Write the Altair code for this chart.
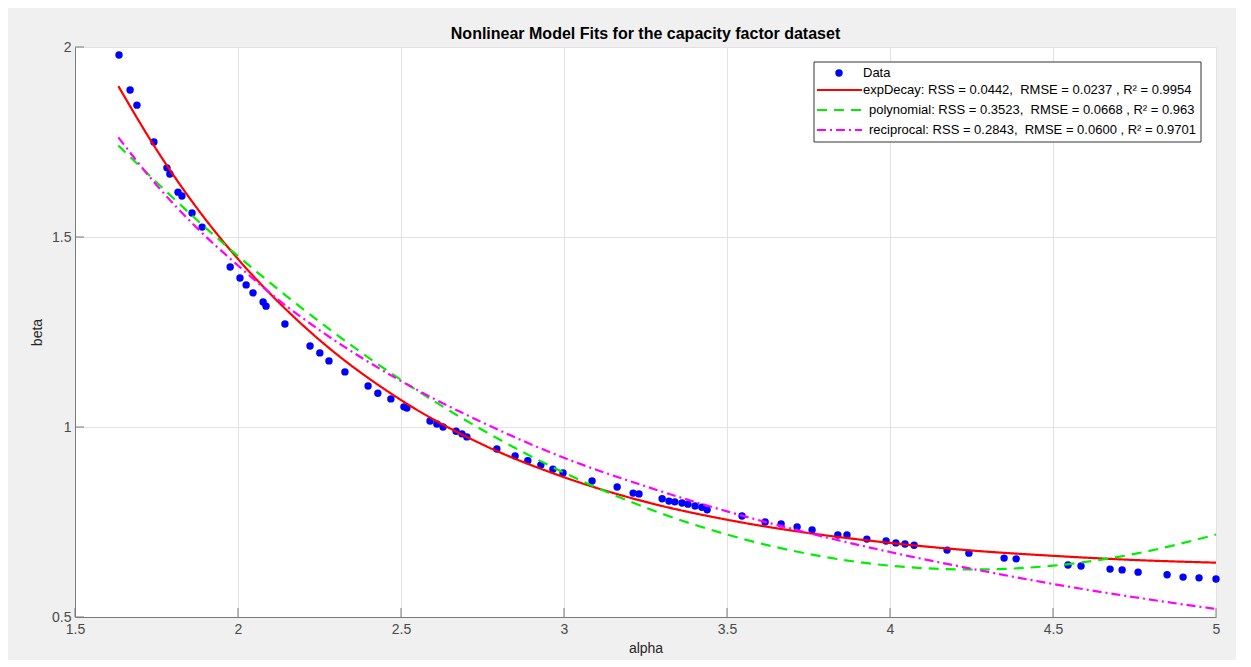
import altair as alt
import pandas as pd

# ---- data ----
alpha_data = [1.635, 1.669, 1.690, 1.742, 1.782, 1.791, 1.816, 1.828, 1.859, 1.890,
              1.976, 2.006, 2.025, 2.046, 2.077, 2.086, 2.144, 2.221, 2.251, 2.279,
              2.328, 2.399, 2.429, 2.469, 2.509, 2.518, 2.589, 2.610, 2.629, 2.669,
              2.687, 2.702, 2.794, 2.850, 2.889, 2.929, 2.966, 2.997, 3.086, 3.163,
              3.212, 3.230, 3.301, 3.322, 3.340, 3.362, 3.380, 3.402, 3.423, 3.439,
              3.546, 3.617, 3.666, 3.715, 3.761, 3.840, 3.868, 3.929, 3.988, 4.018,
              4.046, 4.074, 4.175, 4.242, 4.350, 4.387, 4.546, 4.586, 4.675, 4.712,
              4.761, 4.850, 4.899, 4.948, 5.000]
beta_data = [1.979, 1.887, 1.847, 1.750, 1.682, 1.666, 1.618, 1.608, 1.563, 1.526,
             1.421, 1.392, 1.374, 1.353, 1.329, 1.318, 1.271, 1.213, 1.195, 1.174,
             1.145, 1.108, 1.089, 1.074, 1.053, 1.050, 1.016, 1.008, 1.000, 0.989,
             0.982, 0.974, 0.942, 0.924, 0.911, 0.900, 0.889, 0.879, 0.858, 0.842,
             0.826, 0.824, 0.811, 0.805, 0.803, 0.800, 0.797, 0.792, 0.789, 0.782,
             0.766, 0.750, 0.745, 0.737, 0.729, 0.716, 0.716, 0.705, 0.700, 0.695,
             0.692, 0.689, 0.676, 0.668, 0.655, 0.653, 0.637, 0.634, 0.626, 0.624,
             0.618, 0.611, 0.605, 0.603, 0.600]

fit_alpha = [1.633, 1.75, 1.875, 2.0, 2.125, 2.25, 2.5, 2.75, 3.0, 3.25,
             3.5, 3.75, 4.0, 4.25, 4.5, 4.75, 5.0]
exp_decay = [1.897, 1.730, 1.575, 1.442, 1.328, 1.229, 1.071, 0.954, 0.868, 0.803,
             0.756, 0.721, 0.695, 0.675, 0.661, 0.650, 0.643]
polynomial = [1.741, 1.644, 1.544, 1.450, 1.361, 1.277, 1.124, 0.992, 0.880, 0.788,
              0.717, 0.666, 0.635, 0.625, 0.635, 0.666, 0.717]
reciprocal = [1.762, 1.637, 1.523, 1.425, 1.334, 1.255, 1.121, 1.012, 0.919, 0.844,
              0.778, 0.721, 0.671, 0.627, 0.587, 0.552, 0.521]

series_names = ["expDecay", "polynomial", "reciprocal"]
series_colors = ["#ff0000", "#00ee00", "#ff00ff"]
series_dashes = [[1, 0], [10, 7], [9, 4, 2, 4]]
legend_labels = ["Data",
                 "expDecay: RSS = 0.0442,\u00a0 RMSE = 0.0237 , R\u00b2 = 0.9954",
                 "polynomial: RSS = 0.3523,\u00a0 RMSE = 0.0668 , R\u00b2 = 0.963",
                 "reciprocal: RSS = 0.2843,\u00a0 RMSE = 0.0600 , R\u00b2 = 0.9701"]
x_ticks = [1.5, 2, 2.5, 3, 3.5, 4, 4.5, 5]
y_ticks = [0.5, 1, 1.5, 2]

W, H = 1141, 570
FONT = "Liberation Sans"
AXIS_GRAY = "#7a7a7a"

xs = alt.Scale(domain=[1.5, 5], nice=False, zero=False)
ys = alt.Scale(domain=[0.5, 2], nice=False, zero=False)

pts_df = pd.DataFrame({"alpha": alpha_data, "beta": beta_data})
fit_rows = []
for name, vals in zip(series_names, [exp_decay, polynomial, reciprocal]):
    for a, b in zip(fit_alpha, vals):
        fit_rows.append({"alpha": a, "beta": b, "model": name})
fit_df = pd.DataFrame(fit_rows)

x_axis = alt.Axis(values=x_ticks, format="~g", title="alpha", labelPadding=5, titlePadding=5)
y_axis = alt.Axis(values=y_ticks, format="~g", title="beta", labelPadding=4, titlePadding=7)

points = alt.Chart(pts_df).mark_circle(size=55, color="#0000ff", opacity=1).encode(
    x=alt.X("alpha:Q", scale=xs, axis=x_axis),
    y=alt.Y("beta:Q", scale=ys, axis=y_axis),
)

lines = alt.Chart(fit_df).mark_line(strokeWidth=2.2, interpolate="monotone").encode(
    x=alt.X("alpha:Q", scale=xs, axis=x_axis),
    y=alt.Y("beta:Q", scale=ys, axis=y_axis),
    color=alt.Color("model:N", scale=alt.Scale(domain=series_names, range=series_colors), legend=None),
    strokeDash=alt.StrokeDash("model:N", scale=alt.Scale(domain=series_names, range=series_dashes), legend=None),
    detail="model:N",
)

xt_df = pd.DataFrame({"alpha": x_ticks})
yt_df = pd.DataFrame({"beta": y_ticks})
x_tick_marks = alt.Chart(xt_df).mark_rule(color=AXIS_GRAY, strokeWidth=1).encode(
    x=alt.X("alpha:Q", scale=xs, axis=x_axis), y=alt.value(H), y2=alt.value(H - 9))
y_tick_marks = alt.Chart(yt_df).mark_rule(color=AXIS_GRAY, strokeWidth=1).encode(
    y=alt.Y("beta:Q", scale=ys, axis=y_axis), x=alt.value(0), x2=alt.value(9))

# ---- manual legend box (MATLAB style) ----
one = pd.DataFrame({"k": [0]})
leg_box = alt.Chart(one).mark_rect(fill="white", stroke="#333333", strokeWidth=1).encode(
    x=alt.value(739), x2=alt.value(1126), y=alt.value(15), y2=alt.value(95))
leg_layers = [leg_box]
row_y = [26, 43, 63, 83]
text_x = [788, 788, 794, 794]
leg_layers.append(alt.Chart(one).mark_circle(size=55, color="#0000ff", opacity=1).encode(
    x=alt.value(764), y=alt.value(row_y[0])))
for i, name in enumerate(series_names):
    leg_layers.append(alt.Chart(one).mark_rule(
        color=series_colors[i], strokeWidth=2.2, strokeDash=series_dashes[i]).encode(
        x=alt.value(742), x2=alt.value(787), y=alt.value(row_y[i + 1])))
for i, lab in enumerate(legend_labels):
    leg_layers.append(alt.Chart(one).mark_text(
        text=lab, font=FONT, fontSize=13, color="#000000", align="left",
        baseline="middle").encode(x=alt.value(text_x[i]), y=alt.value(row_y[i])))

chart = alt.layer(points, lines, x_tick_marks, y_tick_marks, *leg_layers).properties(
    width=W, height=H,
    title=alt.TitleParams("Nonlinear Model Fits for the capacity factor dataset",
                          font=FONT, fontSize=16, fontWeight="bold", color="#000000",
                          anchor="middle", offset=-2),
    autosize=alt.AutoSizeParams(type="none"),
    padding={"left": 67, "top": 39, "right": 20, "bottom": 43},
    background="#f0f0f0",
).configure_view(fill="white", stroke="transparent").configure_axis(
    ticks=False, grid=True, gridColor="#e2e2e2", gridWidth=1, domainColor=AXIS_GRAY,
    labelFont=FONT, labelFontSize=14, labelColor="#4a4a4a", labelFlush=False,
    titleFont=FONT, titleFontSize=14, titleFontWeight="normal", titleColor="#262626",
)

chart.save("out.html", embed_options={"renderer": "svg", "actions": False})
